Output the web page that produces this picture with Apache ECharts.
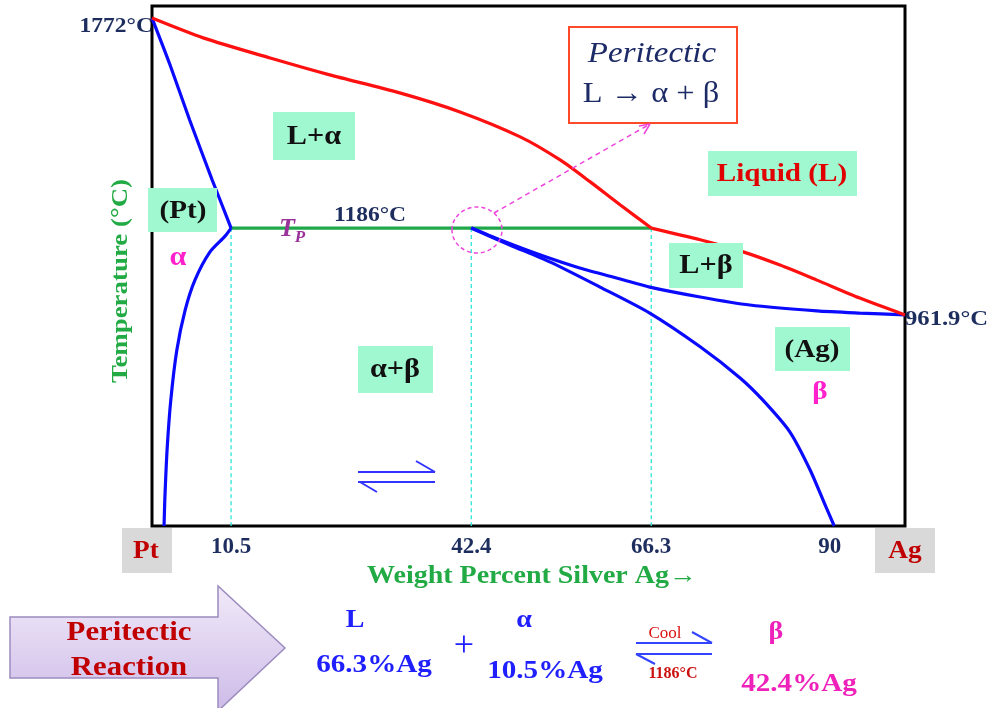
<!DOCTYPE html>
<html>
<head>
<meta charset="utf-8">
<script src="https://cdn.jsdelivr.net/npm/echarts@6/dist/echarts.min.js"></script>
<style>html,body{margin:0;padding:0;background:#fff;}#c{width:990px;height:708px;}</style>
</head>
<body>
<div id="c"></div>
<script>
// ---- data (wt% Ag, temperature) ----
var tickValues = [10.5, 42.4, 66.3, 90];
var endLabels = ['Pt', 'Ag'];
var T_P = 1199;          // peritectic isotherm (labelled 1186°C)
var T_MIN = 386, T_MAX = 1805;
var liquidusLeft = [[0,1772],[6.8,1718],[15.7,1663],[23.6,1617],[32.9,1568],[40.9,1516],[48.9,1448],[54.2,1385],[58.2,1325],[62.2,1262],[66.3,1199]];
var liquidusRight = [[66.3,1199],[72.8,1167],[78.5,1134],[83.4,1098],[88.3,1057],[94.0,1008],[100,962]];
var alphaSolidus = [[0,1772],[2.4,1644],[5.0,1494],[8.0,1330],[9.3,1262],[10.5,1199]];
var alphaSolvus = [[10.5,1199],[9.7,1177],[7.7,1134],[5.7,1057],[4.4,975],[3.3,866],[2.5,730],[2.0,593],[1.7,457],[1.6,386]];
var betaSolidus = [[42.4,1199],[46.2,1167],[51.5,1126],[56.8,1090],[62.2,1060],[66.1,1038],[72.8,1011],[79.4,989],[88.3,973],[94.0,967],[100,962]];
var betaSolvus = [[42.4,1199],[47.5,1153],[52.9,1106],[59.5,1038],[66.1,967],[72.8,875],[78.1,790],[81.1,730],[84.7,643],[87.4,539],[89.4,443],[90.6,386]];
var isotherm = [[10.5,T_P],[66.3,T_P]];
var guideXs = [10.5, 42.4, 66.3];

var serif = 'Liberation Serif, Times New Roman, serif';
var navy = '#1c2d5e';
var mint = '#a0f8d0';
var chart = echarts.init(document.getElementById('c'), null, {renderer:'canvas'});

function lineSeries(data, color, width, z, type) {
  return {type:'line', data:data, symbol:'none', smooth:0.25, silent:true, z:z,
    lineStyle:{color:color, width:width, type:type||'solid'}, animation:false};
}
var series = [];
guideXs.forEach(function(x){
  series.push(lineSeries([[x,T_P],[x,T_MIN]], '#2ee6d6', 1.3, 2, [4,3]));
});
series.push(lineSeries(isotherm, '#1fa84a', 3.2, 3));
series.push(lineSeries(alphaSolidus, '#0a0aff', 3.2, 4));
series.push(lineSeries(alphaSolvus, '#0a0aff', 3.2, 4));
series.push(lineSeries(betaSolidus, '#0a0aff', 3.2, 4));
series.push(lineSeries(betaSolvus, '#0a0aff', 3.2, 4));
series.push(lineSeries(liquidusLeft, '#ff1010', 3.2, 5));
series.push(lineSeries(liquidusRight, '#ff1010', 3.2, 5));

function box(x1,y1,x2,y2,fill){ return {type:'rect', shape:{x:x1,y:y1,width:x2-x1,height:y2-y1}, style:{fill:fill}, z:20, silent:true}; }
function txt(x,y,t,color,size,opts){
  opts = opts||{};
  return {type:'text', x:x, y:y, z:30, silent:true, rotation:opts.rotation||0, scaleX:(opts.sx==null?1.12:opts.sx),
    style:{text:t, fill:color, font:(opts.italic?'italic ':'')+(opts.normal?'normal ':'bold ')+size+'px '+serif,
      align:opts.align||'center', verticalAlign:'middle'}};
}
function seg(x1,y1,x2,y2,color,w,dash){ return {type:'line', shape:{x1:x1,y1:y1,x2:x2,y2:y2}, z:25, silent:true, style:{stroke:color, lineWidth:w, lineDash:dash||null}}; }

var g = [];
// region labels
g.push(box(273,112,355,160,mint)); g.push(txt(314,137,'L+α','#111',27));
g.push(box(148,188,217,232,mint)); g.push(txt(183,211,'(Pt)','#111',26));
g.push(txt(178,258,'α','#ff22cc',27));
g.push(box(708,151,857,196,mint)); g.push(txt(782,174,'Liquid (L)','#e00000',26));
g.push(box(669,243,743,288,mint)); g.push(txt(706,266,'L+β','#111',27));
g.push(box(775,327,850,371,mint)); g.push(txt(812,350,'(Ag)','#111',26));
g.push(txt(820,392,'β','#ff22cc',26));
g.push(box(358,346,433,393,mint)); g.push(txt(395,370,'α+β','#111',27));
// temperature labels
g.push(txt(153,27,'1772°C',navy,21,{align:'right'}));
g.push(txt(905,319,'961.9°C',navy,22,{align:'left'}));
g.push(txt(370,216,'1186°C',navy,21));
g.push(txt(287,229,'T','#993399',26,{italic:true, sx:1}));
g.push(txt(300,238,'P','#993399',17,{italic:true, sx:1}));
// peritectic box
g.push({type:'rect', shape:{x:569,y:27,width:168,height:96}, style:{fill:'#fff', stroke:'#ff4a2a', lineWidth:2}, z:20, silent:true});
g.push(txt(652,54,'Peritectic','#1c2a66',30,{italic:true, normal:true, sx:1.1}));
g.push(txt(651,94,'L → α + β','#1c2a66',30,{normal:true, sx:1.08}));
// dashed circle + pointer
g.push({type:'ellipse', shape:{cx:477,cy:230,rx:25,ry:23}, style:{fill:null, stroke:'#ee44dd', lineWidth:1.5, lineDash:[4,3]}, z:25, silent:true});
g.push(seg(494,213,650,124,'#ee44dd',1.5,[5,4]));
g.push(seg(650,124,639,126,'#ee44dd',1.5));
g.push(seg(650,124,644,134,'#ee44dd',1.5));
// equilibrium harpoons in the field
g.push(seg(358,472,435,472,'#3333ff',2)); g.push(seg(416,461,435,472,'#3333ff',2));
g.push(seg(358,482,435,482,'#3333ff',2)); g.push(seg(360,482,377,492,'#3333ff',2));
// end-member labels
g.push(box(122,528,172,573,'#d9d9d9')); g.push(txt(146,551,endLabels[0],'#c00000',26,{sx:1.05}));
g.push(box(875,528,935,573,'#d9d9d9')); g.push(txt(905,551,endLabels[1],'#c00000',26,{sx:1.05}));
// axis titles
g.push(txt(532,577,'Weight Percent Silver Ag→','#22aa44',25));
g.push(txt(121,281,'Temperature (°C)','#22aa44',24,{rotation:Math.PI/2}));
// bottom reaction arrow
g.push({type:'polygon', shape:{points:[[10,617],[218,617],[218,586],[285,648],[218,711],[218,678],[10,678]]},
  style:{fill:new echarts.graphic.LinearGradient(0,0,0,1,[{offset:0,color:'#f1eaf9'},{offset:1,color:'#cdbbe8'}]), stroke:'#9d8cbf', lineWidth:1.5}, z:20, silent:true});
g.push(txt(129,633,'Peritectic','#c00000',28,{sx:1.1}));
g.push(txt(129,668,'Reaction','#c00000',28,{sx:1.1}));
g.push(txt(355,621,'L','#2020ff',25));
g.push(txt(374,665,'66.3%Ag','#2020ff',26));
g.push(txt(464,647,'+','#2020ff',36,{normal:true, sx:1}));
g.push(txt(524,621,'α','#2020ff',25));
g.push(txt(545,671,'10.5%Ag','#2020ff',26));
g.push(seg(636,643,712,643,'#3344ff',2)); g.push(seg(692,632,712,643,'#3344ff',2));
g.push(seg(636,654,712,654,'#3344ff',2)); g.push(seg(636,654,655,664,'#3344ff',2));
g.push(txt(665,634,'Cool','#dd1111',17,{normal:true, sx:1}));
g.push(txt(673,674,'1186°C','#cc1111',16,{sx:1}));
g.push(txt(776,633,'β','#ee22bb',25));
g.push(txt(799,684,'42.4%Ag','#ee22bb',26));

var option = {
  animation:false,
  backgroundColor:'#fff',
  grid:{left:152, right:85, top:6, bottom:182, show:true, borderColor:'#000', borderWidth:3, backgroundColor:'#fff'},
  xAxis:{type:'value', min:0, max:100, splitLine:{show:false}, axisLine:{show:false}, axisTick:{show:false},
    axisLabel:{show:true, customValues:tickValues, margin:10, color:navy, fontFamily:serif, fontWeight:'bold', fontSize:23}},
  yAxis:{type:'value', min:T_MIN, max:T_MAX, splitLine:{show:false}, axisLine:{show:false}, axisTick:{show:false}, axisLabel:{show:false}},
  series:series,
  graphic:g
};
chart.setOption(option);
</script>
</body>
</html>
